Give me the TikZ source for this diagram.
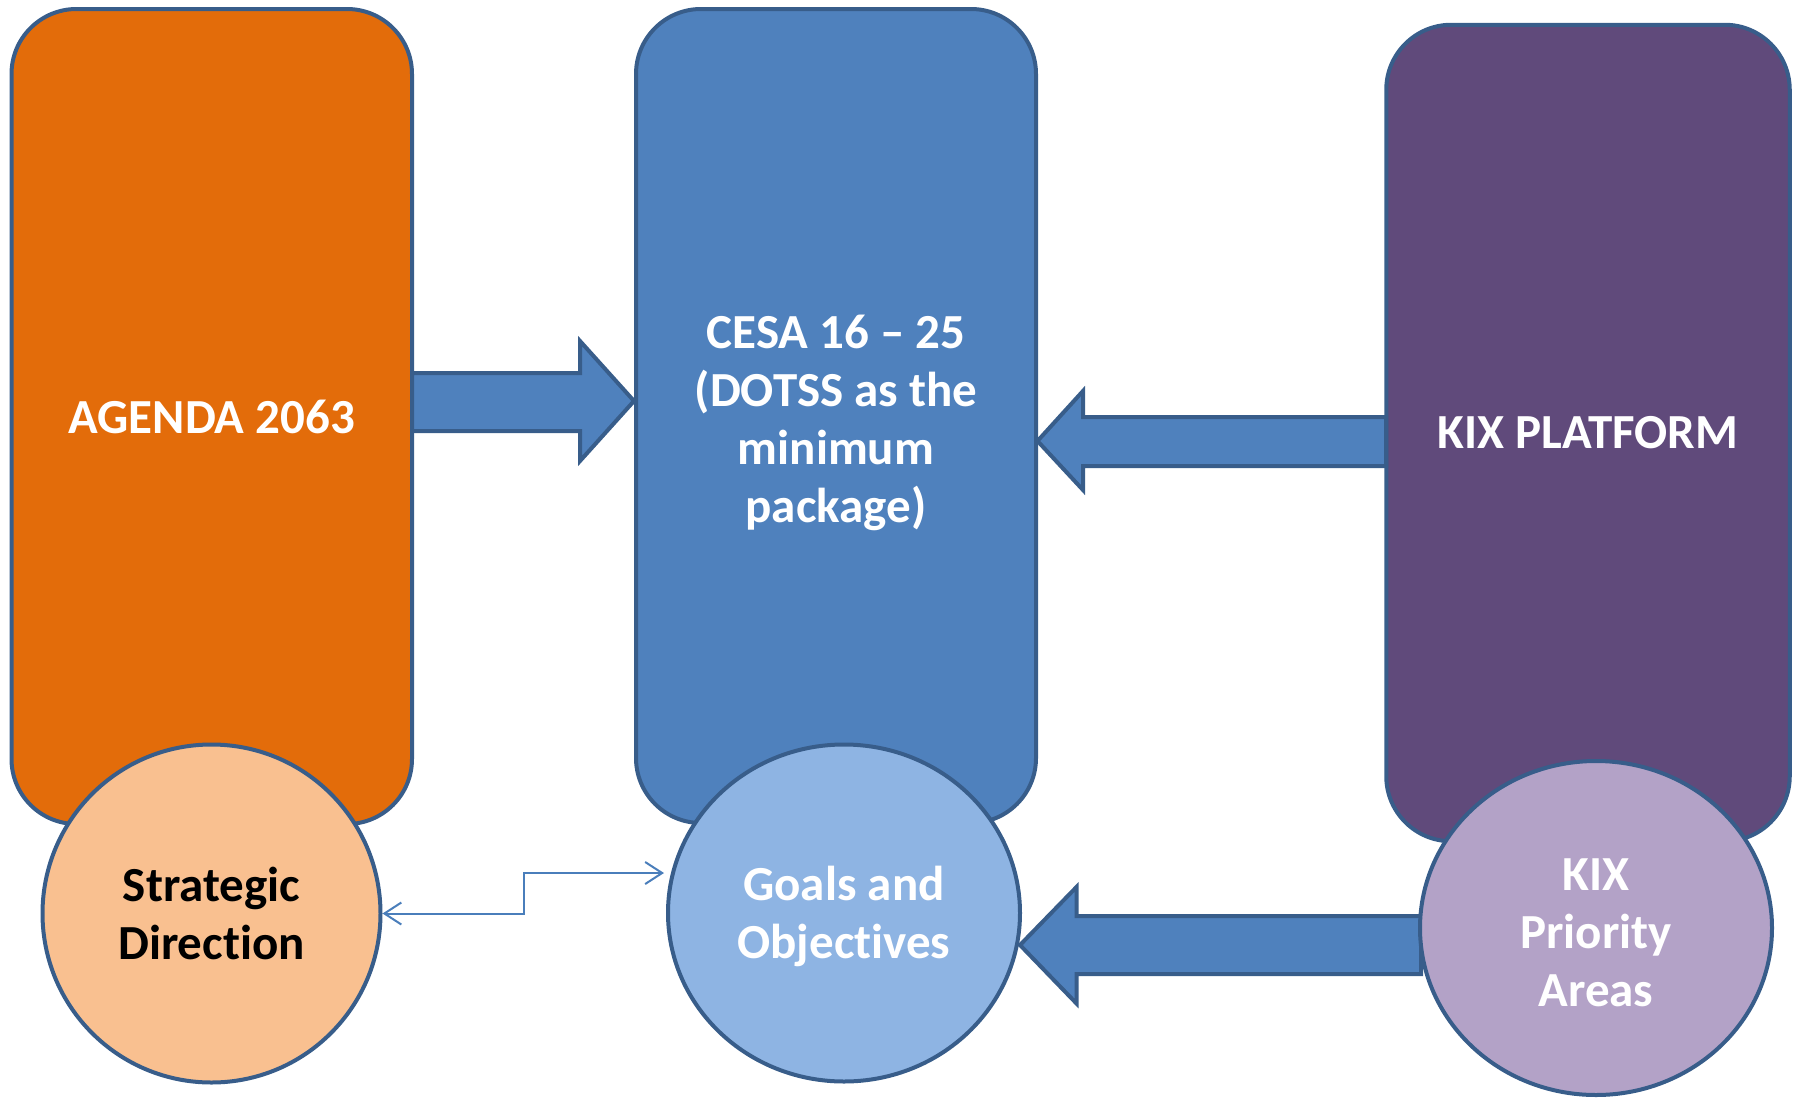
\documentclass[tikz,border=0pt]{standalone}
\usepackage{fontspec}
\setmainfont{Carlito}[Ligatures=NoCommon]
\usetikzlibrary{shapes.geometric,arrows.meta,calc}
\definecolor{edgeblue}{HTML}{385D8A}
\definecolor{agendaor}{HTML}{E36C0A}
\definecolor{cesablue}{HTML}{4F81BD}
\definecolor{kixpurple}{HTML}{604A7B}
\definecolor{stratfill}{HTML}{F9C090}
\definecolor{goalfill}{HTML}{8EB4E3}
\definecolor{prifill}{HTML}{B3A2C7}
\definecolor{connblue}{HTML}{4A7EBB}
\newcommand\diaglbl{\fontsize{24.5pt}{29pt}\selectfont\bfseries}
\begin{document}
\begin{tikzpicture}[x=0.5pt,y=-0.5pt,
  box/.style={draw=edgeblue,line width=2pt,rounded corners=32.5pt,inner sep=0pt,
    text=white,font=\diaglbl,align=center},
  oval/.style={ellipse,draw=edgeblue,line width=2pt,inner sep=0pt,
    text=white,font=\diaglbl,align=center},
  blockarrow/.style={draw=edgeblue,fill=cesablue,line width=2pt,line join=miter},
  conn/.style={draw=connblue,line width=1pt,{Straight Barb[length=8.5pt,width=11pt]}-{Straight Barb[length=8.5pt,width=11pt]}}
]
\useasboundingbox (0,0) rectangle (1794,1098);

% tall boxes
\node[box,fill=agendaor,minimum width=200.25pt,minimum height=407.5pt] (agenda) at (211.75,416.5) {AGENDA 2063};
\node[box,fill=cesablue,minimum width=200pt,minimum height=407pt] (cesa) at (836,416) {\rule{0pt}{24pt}CESA 16 -- 25\\(DOTSS as the\\minimum\\package)};
\node[box,fill=kixpurple,minimum width=201.75pt,minimum height=408.25pt] (kix) at (1588,433) {KIX PLATFORM};

% block arrows
\draw[blockarrow] (412,373) -- (580,373) -- (580,341) -- (634,401) -- (580,461) -- (580,431) -- (412,431) -- cycle;
\draw[blockarrow] (1386,417) -- (1083,417) -- (1083,391) -- (1037.5,441) -- (1083,490) -- (1083,466) -- (1386,466) -- cycle;
\draw[blockarrow] (1421,916) -- (1076.5,916) -- (1076.5,887) -- (1020,945) -- (1076.5,1003.5) -- (1076.5,974) -- (1421,974) -- cycle;

% ovals
\node[oval,fill=stratfill,text=black,minimum width=169pt,minimum height=169pt] (strat) at (211.5,913.5) {Strategic\\Direction};
\node[oval,fill=goalfill,minimum width=176pt,minimum height=168.5pt] (goals) at (844,913) {\rule{0pt}{21pt}Goals and\\Objectives};
\node[oval,fill=prifill,minimum width=176pt,minimum height=167pt] (prio) at (1596,928) {\rule{0pt}{21pt}KIX\\Priority\\Areas};

% elbow connector
\coordinate (gin) at ($(goals.west)+(-2,-40)$);
\draw[conn] (strat.east) -- (523.5,913.5) |- (gin);
\end{tikzpicture}
\end{document}
